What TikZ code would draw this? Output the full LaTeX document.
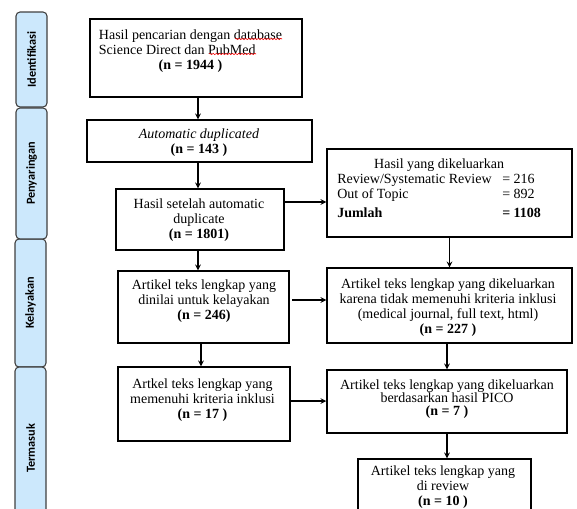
\documentclass[tikz,border=0pt]{standalone}
\usepackage{fontspec}
\setmainfont{Liberation Serif}
\newfontfamily\tabfont{Carlito}
\usetikzlibrary{decorations.pathmorphing}
\definecolor{tabblue}{RGB}{204,232,252}
\newcommand{\boxtext}{\fontsize{10.5}{11.25}\selectfont}
\newcommand{\tabtext}{\tabfont\bfseries\fontsize{9.2}{11}\selectfont}

\tikzset{
    box/.style={draw, line width=1.1pt, inner sep=0pt},
    wh/.style 2 args={minimum width=#1*0.75pt, minimum height=#2*0.75pt},
    txt/.style={font=\boxtext, align=center, inner sep=0pt},
    tab/.style={draw=black!75, fill=tabblue, line width=0.8pt,
        rounded corners=3pt, rotate=90, font=\tabtext, inner sep=0pt},
    arr/.style={line width=0.9pt, ->},
    squiggle/.style={red, line width=0.4pt, decorate,
        decoration={snake, amplitude=0.5pt, segment length=2.4pt}}
}

\begin{document}
\begin{tikzpicture}[>=stealth, x=0.75pt, y=-0.75pt]

% picture frame (pixel units, y downwards)
\clip (0,0) rectangle (577,508);

% stage tabs
\node [tab, wh={95}{31}] (tabid) at (31.5, 59.5) {Identifikasi};
\node [tab, wh={128}{31}] (tabkel) at (30.5, 303) {Kelayakan};
\node [tab, wh={131}{31}] (tabpen) at (31.5, 173.5) {Penyaringan};
\node [tab, wh={163}{31}] (tabtermasuk) at (30.5, 448.5) {Termasuk};

% left column boxes
\node [box, wh={212}{78}] (b1) at (196, 58) {};
\node [box, wh={225}{42}] (b2) at (199.5, 141) {};
\node [box, wh={168}{61}] (b3) at (200, 219.5) {};
\node [box, wh={171}{72}] (b4) at (203.5, 307) {};
\node [box, wh={172}{74}] (b5) at (204, 404) {};

% right column boxes
\node [box, wh={245}{88}] (ex1) at (449.5, 193) {};
\node [box, wh={245}{75}] (ex2) at (449.5, 305.5) {};
\node [box, wh={240}{63}] (ex3) at (447, 401.5) {};
\node [box, wh={173}{80}] (b6) at (444.5, 499) {};

% box texts
\node [txt] (t1) at (190.5, 51) {\begin{tabular}{@{}l@{}}
    Hasil pencarian dengan database\\
    Science Direct dan PubMed\\
    \multicolumn{1}{@{}c@{}}{\textbf{(n = 1944 )}}\end{tabular}};
\node [txt] (t2) at (199, 143) {\textit{Automatic duplicated}\\ \textbf{(n = 143 )}};
\node [txt] (t3) at (199, 220) {Hasil setelah automatic\\ duplicate\\ \textbf{(n = 1801)}};
\node [txt] (t4) at (204, 301) {Artikel teks lengkap yang\\ dinilai untuk kelayakan\\ \textbf{(n = 246)}};
\node [txt] (t5) at (202.5, 400) {Artkel teks lengkap yang\\ memenuhi kriteria inklusi\\ \textbf{(n = 17 )}};
\node [txt, anchor=west] (tex1) at (337, 190) {\begin{tabular}{@{}p{123.75pt}@{}l@{}}
    \multicolumn{2}{@{}c@{}}{Hasil yang dikeluarkan}\\
    Review/Systematic Review & = 216\\
    Out of Topic & = 892\\[3pt]
    \textbf{Jumlah} & \textbf{= 1108}\end{tabular}};
\node [txt] (tex2) at (448, 307.5) {Artikel teks lengkap yang dikeluarkan\\
    karena tidak memenuhi kriteria inklusi\\
    (medical journal, full text, html)\\ \textbf{(n = 227 )}};
\node [txt, font=\fontsize{10.5}{9.8}\selectfont] (tex3) at (447, 399) {Artikel teks lengkap yang dikeluarkan\\
    berdasarkan hasil PICO\\ \textbf{(n = 7 )}};
\node [txt] (t6) at (443, 487.5) {Artikel teks lengkap yang\\ di review\\ \textbf{(n = 10 )}};

% spell check marks
\draw [squiggle] (235,39) -- (282,39);
\draw [squiggle] (209,54) -- (256,54);

% connector guides
\coordinate (spine) at (198,0);
\coordinate (spineb) at (201,0);
\coordinate (r1) at (0,202);
\coordinate (r2) at (0,300);
\coordinate (r3) at (0,401);

% arrows
\draw [arr] (b1.south -| spine) -- (b2.north -| spine);
\draw [arr] (b2.south -| spine) -- (b3.north -| spine);
\draw [arr] (b3.south -| spine) -- (b4.north -| spine);
\draw [arr] (b4.south -| spineb) -- (b5.north -| spineb);
\draw [arr] (b3.east |- r1) -- (ex1.west |- r1);
\draw [arr] (ex1.south) -- (ex2.north);
\draw [arr] ([xshift=2pt]b4.east |- r2) -- (ex2.west |- r2);
\draw [arr] (b5.east |- r3) -- (ex3.west |- r3);
\draw [arr] (ex2.south -| ex3) -- (ex3.north);
\draw [arr] (ex3.south) -- (ex3.south |- b6.north);

\end{tikzpicture}
\end{document}
